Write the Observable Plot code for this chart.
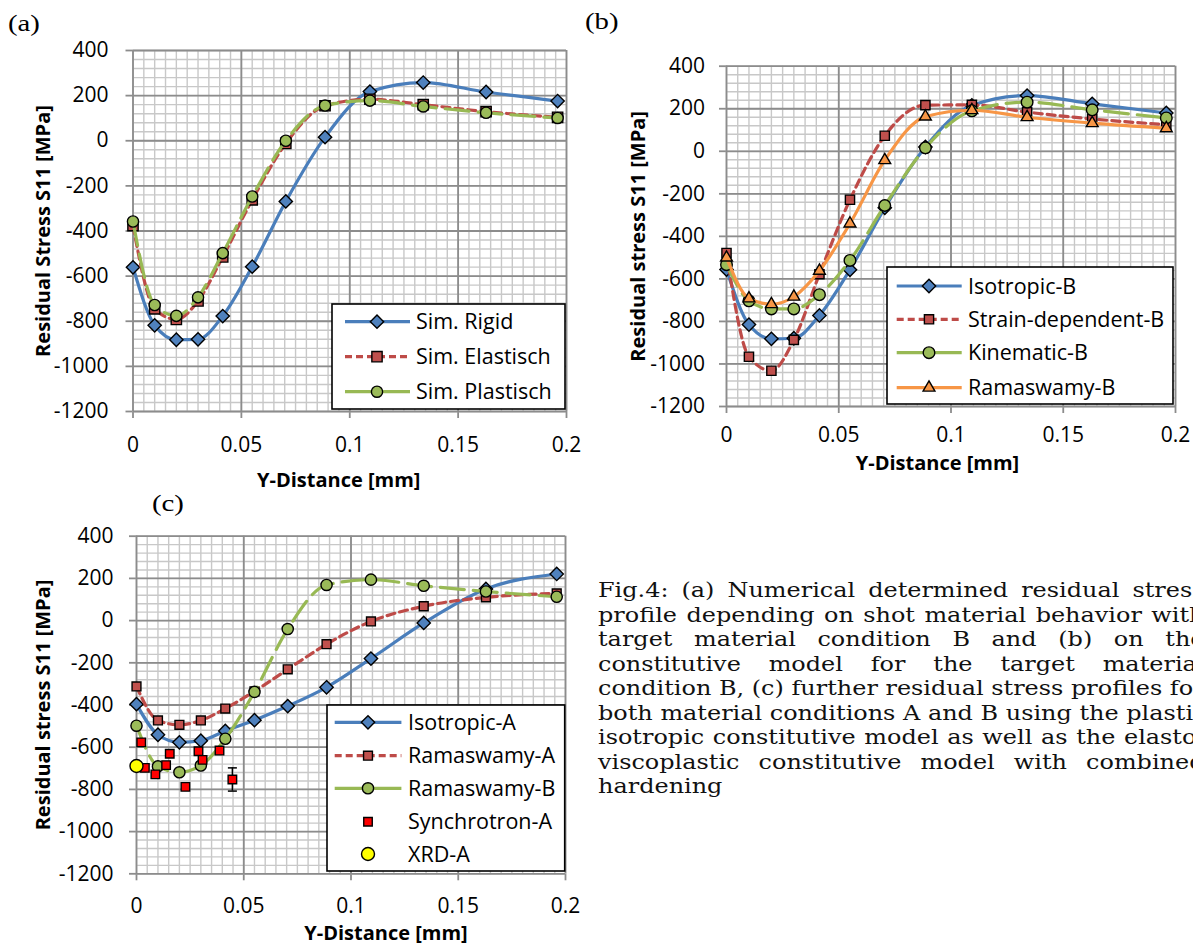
<!DOCTYPE html>
<html><head><meta charset="utf-8">
<script src="https://cdn.jsdelivr.net/npm/d3@7"></script>
<script src="https://cdn.jsdelivr.net/npm/@observablehq/plot@0.6"></script>
<style>
html,body{margin:0;padding:0;width:1193px;height:944px;overflow:hidden;background:#fff;}
.plabel{font-family:"Liberation Serif",serif;font-size:23px;line-height:23px;transform:scaleX(1.25);transform-origin:0 0;color:#000;}
#caption{font-family:"DejaVu Serif",serif;font-size:21px;line-height:24.5px;transform:scaleX(1.14);transform-origin:0 0;color:#111;}
#caption div{width:532px;white-space:nowrap;text-align:justify;text-align-last:justify;}
#caption div.last{text-align-last:left;}
svg [aria-label="x-axis tick"], svg [aria-label="y-axis tick"]{stroke:#8c8c8c;stroke-width:1.8;}
</style></head><body>
<div id="root"></div>
<script>
// ---------- data ----------
const xDepth = [0, 0.01, 0.02, 0.03, 0.0414, 0.055, 0.0705, 0.0886, 0.1093, 0.1339, 0.1629, 0.1959];

// panel (a)
const simRigid     = [-561, -818, -882, -880, -777, -558, -269, 16, 218, 258, 216, 176];
const simElastisch = [-376, -745, -792, -710, -515, -262, -12, 155, 184, 160, 129, 104];
const simPlastisch = [-358, -728, -776, -694, -498, -247, 0, 156, 178, 152, 124, 101];

// panel (b)
const isotropicB = [-556, -815, -882, -879, -772, -557, -266, 20, 216, 262, 223, 180];
const strainDepB = [-478, -966, -1032, -887, -578, -228, 73, 217, 218, 184, 152, 125];
const kinematicB = [-533, -703, -741, -741, -674, -513, -255, 16, 190, 231, 195, 157];
const ramaswamyB = [-500, -692, -719, -684, -562, -340, -42, 163, 193, 160, 132, 108];

// panel (c)
const isotropicA  = [-396, -541, -577, -569, -523, -472, -405, -316, -180, -11, 150, 221];
const ramaswamyA  = [-312, -473, -494, -473, -417, -335, -231, -112, -4, 68, 110, 129];
const ramaswamyBc = [-498, -691, -719, -687, -560, -338, -40, 169, 194, 165, 138, 113];
const synchX = [0.0022, 0.0039, 0.0088, 0.0138, 0.0155, 0.0228, 0.0289, 0.0308, 0.0387, 0.0447];
const synchY = [-577, -698, -729, -685, -631, -788, -619, -660, -616, -753];
const synchErrX  = [0.0447];
const synchErrLo = [-808];
const synchErrHi = [-698];
const xrdX = [0];
const xrdY = [-689];

// ticks
const xTicks = [0, 0.05, 0.1, 0.15, 0.2];
const xTickLabels = ["0", "0.05", "0.1", "0.15", "0.2"];
const yTicks = [-1200, -1000, -800, -600, -400, -200, 0, 200, 400];
const yTickLabels = ["-1200", "-1000", "-800", "-600", "-400", "-200", "0", "200", "400"];
const minorXStep = 0.005, minorYStep = 40;
const minorX = d3.range(0, 41).map(i => +(i * minorXStep).toFixed(4));
const minorY = d3.range(-1200, 401, minorYStep);

// ---------- styles ----------
const C = {
  blue: {line: "#4A7EBB", fill: "#4F81BD"},
  red: {line: "#BE4B48", fill: "#C0504D"},
  green: {line: "#98B954", fill: "#9BBB59"},
  orange: {line: "#F79646", fill: "#F79646"}
};
const DASH = "8,5", LONGDASH = "24,9";
const capSymbol = {draw(ctx, size) { const r = Math.sqrt(size / Math.PI); ctx.moveTo(-r, 0); ctx.lineTo(r, 0); }};

const root = document.getElementById("root");
function place(el, left, top) {
  el.style.position = "absolute"; el.style.left = left + "px"; el.style.top = top + "px";
  root.appendChild(el);
}

function panel(cfg) {
  const marks = [
    Plot.ruleX(minorX, {stroke: "#c8c8c8", strokeWidth: 1.4}),
    Plot.ruleY(minorY, {stroke: "#c8c8c8", strokeWidth: 1.4}),
    Plot.ruleX(xTicks, {stroke: "#8c8c8c", strokeWidth: 1.8}),
    Plot.ruleY(yTicks, {stroke: "#8c8c8c", strokeWidth: 1.8})
  ];
  for (const s of cfg.series) {
    const data = s.x.map((x, i) => ({x, y: s.y[i]}));
    if (s.line) marks.push(Plot.line(data, {x: "x", y: "y", stroke: s.line, strokeWidth: 3.2, strokeDasharray: s.dash || null, curve: "monotone-x"}));
    if (s.err) {
      const e = s.err;
      const ed = e.x.map((x, i) => ({x, lo: e.lo[i], hi: e.hi[i]}));
      marks.push(Plot.ruleX(ed, {x: "x", y1: "lo", y2: "hi", stroke: "#000", strokeWidth: 1.5}));
      marks.push(Plot.dot(ed, {x: "x", y: "lo", symbol: capSymbol, r: 4.5, stroke: "#000", strokeWidth: 1.5, fill: "none"}));
      marks.push(Plot.dot(ed, {x: "x", y: "hi", symbol: capSymbol, r: 4.5, stroke: "#000", strokeWidth: 1.5, fill: "none"}));
    }
    marks.push(Plot.dot(data, {x: "x", y: "y", symbol: s.symbol, r: s.r, fill: s.fill, stroke: "#000", strokeWidth: 1.4}));
  }
  marks.push(Plot.text([cfg.xTitle], {frameAnchor: "bottom", text: d => d, textAnchor: "middle", lineAnchor: "middle", dx: cfg.xTitleDx, dy: cfg.xTitleDy, fontWeight: "bold", fontSize: 20, fill: "#000"}));
  marks.push(Plot.text([cfg.yTitle], {frameAnchor: "left", text: d => d, textAnchor: "middle", lineAnchor: "middle", rotate: -90, dx: cfg.yTitleDx, fontWeight: "bold", fontSize: 20, fill: "#000"}));
  const chart = Plot.plot({
    width: cfg.width, height: cfg.height,
    marginLeft: cfg.m[0], marginRight: cfg.m[1], marginTop: cfg.m[2], marginBottom: cfg.m[3],
    style: {background: "transparent", fontFamily: "'Open Sans', sans-serif", fontSize: "21px", color: "#000", overflow: "visible"},
    x: {domain: [0, 0.2], ticks: xTicks, tickFormat: d => xTickLabels[xTicks.indexOf(d)], tickSize: 7, tickPadding: cfg.padX, label: null, line: false},
    y: {domain: [-1200, 400], ticks: yTicks, tickFormat: d => yTickLabels[yTicks.indexOf(d)], tickSize: 7, tickPadding: cfg.padY, label: null, line: false},
    marks
  });
  chart.style.maxWidth = "none";
  place(chart, cfg.left, cfg.top);
}

const symMap = {diamond2: d3.symbolDiamond2, square: d3.symbolSquare, circle: d3.symbolCircle, triangle: d3.symbolTriangle};
function legend(cfg) {
  const svg = d3.create("svg").attr("width", cfg.w + 4).attr("height", cfg.h + 4).style("overflow", "visible");
  const g = svg.append("g").attr("transform", "translate(1,1)");
  g.append("rect").attr("x", 0).attr("y", 0).attr("width", cfg.w).attr("height", cfg.h).attr("fill", "#fff").attr("stroke", "#000").attr("stroke-width", 1.6);
  cfg.items.forEach((it, i) => {
    const y = cfg.rows[i];
    if (it.line) g.append("line").attr("x1", cfg.lx0).attr("x2", cfg.lx1).attr("y1", y).attr("y2", y)
      .attr("stroke", it.line).attr("stroke-width", 3.2).attr("stroke-dasharray", it.legendDash || null);
    g.append("path").attr("d", d3.symbol(symMap[it.symbol], Math.PI * it.r * it.r)())
      .attr("transform", `translate(${cfg.mx},${y})`).attr("fill", it.fill).attr("stroke", "#000").attr("stroke-width", 1.4);
    g.append("text").attr("x", cfg.tx).attr("y", y).attr("dy", "0.36em").text(it.label)
      .attr("font-family", "'Open Sans', sans-serif").attr("font-size", 21.5).attr("fill", "#000");
  });
  place(svg.node(), cfg.left - 1, cfg.top - 1);
}

// ---------- panel (a) ----------
const seriesA = [
  {label: "Sim. Rigid", x: xDepth, y: simRigid, line: C.blue.line, fill: C.blue.fill, symbol: "diamond2", r: 6},
  {label: "Sim. Elastisch", x: xDepth, y: simElastisch, line: C.red.line, dash: DASH, legendDash: "7,4", fill: C.red.fill, symbol: "square", r: 5.8},
  {label: "Sim. Plastisch", x: xDepth, y: simPlastisch, line: C.green.line, dash: LONGDASH, fill: C.green.fill, symbol: "circle", r: 5.6}
];
panel({left: 0, top: 0, width: 600, height: 500, m: [132.5, 34, 50, 89], padX: 19, padY: 17.5,
  series: seriesA, xTitle: "Y-Distance [mm]", xTitleDx: -11, xTitleDy: 69,
  yTitle: "Residual Stress S11 [MPa]", yTitleDx: -89.5});
legend({left: 332, top: 304, w: 233, h: 105, rows: [17.7, 52.7, 87.7], lx0: 13, lx1: 78, mx: 45, tx: 84, items: seriesA});

// ---------- panel (b) ----------
const seriesB = [
  {label: "Isotropic-B", x: xDepth, y: isotropicB, line: C.blue.line, fill: C.blue.fill, symbol: "diamond2", r: 6},
  {label: "Strain-dependent-B", x: xDepth, y: strainDepB, line: C.red.line, dash: DASH, legendDash: "7,4", fill: C.red.fill, symbol: "square", r: 5.2},
  {label: "Kinematic-B", x: xDepth, y: kinematicB, line: C.green.line, dash: LONGDASH, fill: C.green.fill, symbol: "circle", r: 5.8},
  {label: "Ramaswamy-B", x: xDepth, y: ramaswamyB, line: C.orange.line, fill: C.orange.fill, symbol: "triangle", r: 4.4}
];
panel({left: 590, top: 0, width: 603, height: 480, m: [136, 18, 65.7, 74], padX: 14, padY: 14.4,
  series: seriesB, xTitle: "Y-Distance [mm]", xTitleDx: -13.5, xTitleDy: 57,
  yTitle: "Residual stress S11 [MPa]", yTitleDx: -88});
legend({left: 887, top: 267, w: 286, h: 137, rows: [19, 52.3, 85.7, 120.7], lx0: 9.7, lx1: 74.7, mx: 42, tx: 81, items: seriesB});

// ---------- panel (c) ----------
const seriesC = [
  {label: "Isotropic-A", x: xDepth, y: isotropicA, line: C.blue.line, fill: C.blue.fill, symbol: "diamond2", r: 6},
  {label: "Ramaswamy-A", x: xDepth, y: ramaswamyA, line: C.red.line, dash: DASH, legendDash: "7,4", fill: C.red.fill, symbol: "square", r: 5},
  {label: "Ramaswamy-B", x: xDepth, y: ramaswamyBc, line: C.green.line, dash: LONGDASH, fill: C.green.fill, symbol: "circle", r: 5.6},
  {label: "Synchrotron-A", x: synchX, y: synchY, fill: "#FF0000", symbol: "square", r: 4.8,
    err: {x: synchErrX, lo: synchErrLo, hi: synchErrHi}},
  {label: "XRD-A", x: xrdX, y: xrdY, fill: "#FFFF00", symbol: "circle", r: 6.5}
];
panel({left: 0, top: 480, width: 600, height: 464, m: [136, 35, 55.7, 70.7], padX: 17, padY: 16,
  series: seriesC, xTitle: "Y-Distance [mm]", xTitleDx: 35, xTitleDy: 60,
  yTitle: "Residual stress S11 [MPa]", yTitleDx: -93});
legend({left: 327.3, top: 705, w: 237.7, h: 166, rows: [17.3, 50.7, 83.3, 116.7, 149], lx0: 7.7, lx1: 74.4, mx: 41, tx: 81, items: seriesC});

// ---------- labels & caption ----------
const panelLabels = [["(a)", 8, 11.5], ["(b)", 585, 9.5], ["(c)", 152, 491.5]];
for (const [t, l, tp] of panelLabels) {
  const d = document.createElement("div"); d.className = "plabel"; d.textContent = t; place(d, l, tp);
}
const captionLines = [
  "Fig.4: (a) Numerical determined residual stress",
  "profile depending on shot material behavior with",
  "target material condition B and (b) on the",
  "constitutive model for the target material",
  "condition B, (c) further residual stress profiles for",
  "both material conditions A and B using the plastic",
  "isotropic constitutive model as well as the elasto-",
  "viscoplastic constitutive model with combined",
  "hardening"
];
const cap = document.createElement("div"); cap.id = "caption";
captionLines.forEach((t, i) => { const d = document.createElement("div"); d.textContent = t; if (i === captionLines.length - 1) d.className = "last"; cap.appendChild(d); });
place(cap, 598, 578);
</script>
</body></html>
